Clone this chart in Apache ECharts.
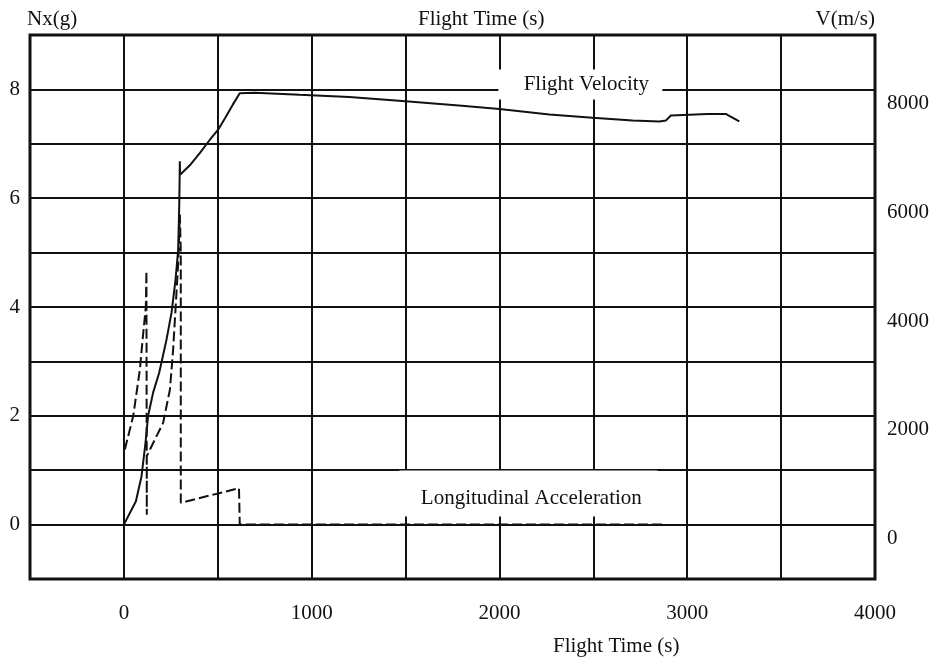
<!DOCTYPE html>
<html>
<head>
<meta charset="utf-8">
<script src="https://cdn.jsdelivr.net/npm/echarts@6/dist/echarts.min.js"></script>
<style>
  html, body { margin: 0; padding: 0; background: #fff; }
  #chart { width: 937px; height: 669px; }
</style>
</head>
<body>
<div id="chart"></div>
<script>
// flight velocity, m/s (right axis)
const velTime = [0, 64, 94, 115, 129, 156, 188, 227, 254, 275, 289, 295, 298, 299, 307, 350, 404, 457, 502, 540, 580, 617, 697, 936, 1200, 1500, 1800, 2000, 2266, 2496, 2709, 2851, 2887, 2913, 3108, 3205, 3277]
const velValue = [0, 430, 890, 1500, 2000, 2430, 2790, 3400, 3900, 4500, 5050, 5900, 6680, 6430, 6430, 6600, 6830, 7070, 7260, 7480, 7720, 7930, 7940, 7900, 7860, 7780, 7700, 7640, 7540, 7480, 7430, 7410, 7430, 7520, 7550, 7550, 7410]

// longitudinal acceleration, g (left axis)
const accTime = [5, 50, 85, 103, 117, 120, 122, 122, 156, 209, 245, 262, 280, 289, 298, 303, 303, 613, 617, 617, 2878]
const accValue = [1.38, 2.0, 2.85, 3.52, 4.01, 4.66, 0.18, 1.26, 1.5, 1.87, 2.48, 3.2, 4.26, 4.8, 5.7, 5.0, 0.4, 0.67, 0.67, 0, 0]

const xTicks = [0, 1000, 2000, 3000, 4000]
const nxTicks = [0, 2, 4, 6, 8]
const vTicks = [0, 2000, 4000, 6000, 8000]

const font = 'Liberation Serif'
const ink = '#111'
const txt = { fontFamily: font, fontSize: 21, fontWeight: 'normal', color: ink }

const chart = echarts.init(document.getElementById('chart'))

const option = {
  animation: false,
  backgroundColor: '#fff',
  title: [
    { text: 'Nx(g)', left: 27, top: 9, padding: 0, textStyle: txt },
    { text: 'Flight Time (s)', left: 418, top: 9, padding: 0, textStyle: txt },
    { text: 'V(m/s)', right: 62, top: 9, padding: 0, textStyle: txt },
    { text: 'Flight Time (s)', left: 553, top: 636, padding: 0, textStyle: txt },
  ],
  grid: {
    left: 30, right: 62, top: 35, bottom: 90,
    show: true, borderColor: ink, borderWidth: 3,
  },
  xAxis: {
    type: 'value',
    min: -500, max: 4000, interval: 500,
    axisLine: { show: false },
    axisTick: { show: false },
    axisLabel: {
      ...txt, margin: 24,
      formatter: v => xTicks.includes(v) ? String(v) : '',
    },
    splitLine: { show: true, lineStyle: { color: ink, width: 2 } },
  },
  yAxis: [
    {
      type: 'value',
      min: -1, max: 9, interval: 1,
      axisLine: { show: false },
      axisTick: { show: false },
      axisLabel: {
        ...txt, margin: 10,
        formatter: v => nxTicks.includes(v) ? String(v) : '',
      },
      splitLine: { show: true, lineStyle: { color: ink, width: 2 } },
    },
    {
      type: 'value',
      min: -1000, max: 9000, interval: 1000,
      position: 'right',
      axisLine: { show: false },
      axisTick: { show: false },
      axisLabel: {
        ...txt, margin: 12, verticalAlign: 'top', lineHeight: 28,
        formatter: v => vTicks.includes(v) ? String(v) : '',
      },
      splitLine: { show: false },
    },
  ],
  series: [
    {
      name: 'Flight Velocity',
      type: 'line',
      yAxisIndex: 1,
      data: velTime.map((t, i) => [t, velValue[i]]),
      showSymbol: false,
      lineStyle: { color: ink, width: 2 },
      markPoint: {
        silent: true,
        symbol: 'rect',
        symbolSize: [164, 30],
        itemStyle: { color: '#fff', borderWidth: 0 },
        label: { show: true, position: 'inside', offset: [6, 0], ...txt, formatter: 'Flight Velocity' },
        data: [{ coord: [2431, 8090] }],
      },
    },
    {
      name: 'Longitudinal Acceleration',
      type: 'line',
      yAxisIndex: 0,
      data: accTime.map((t, i) => [t, accValue[i]]),
      showSymbol: false,
      lineStyle: { color: ink, width: 2, type: [10, 4] },
      markPoint: {
        silent: true,
        symbol: 'rect',
        symbolSize: [258, 46],
        itemStyle: { color: '#fff', borderWidth: 0 },
        label: { show: true, position: 'inside', offset: [3, 5], ...txt, formatter: 'Longitudinal Acceleration' },
        data: [{ coord: [2154, 0.57] }],
      },
    },
  ],
}

chart.setOption(option)
window.addEventListener('resize', () => chart.resize())
</script>
</body>
</html>
